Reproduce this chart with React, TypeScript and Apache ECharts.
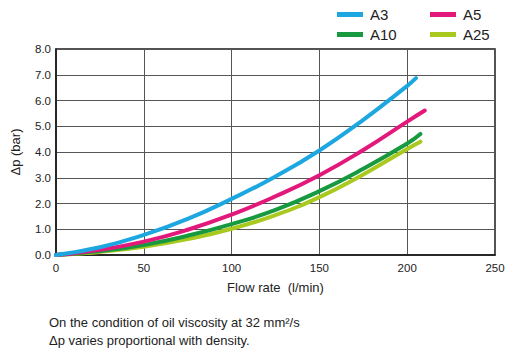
import React, { useEffect, useRef } from "react";
import * as echarts from "echarts";

const flowA3 = [0, 25, 50, 75, 100, 125, 150, 175, 200, 205];
const dpA3 = [0, 0.3, 0.78, 1.4, 2.18, 3.05, 4.06, 5.25, 6.57, 6.87];
const flowA5 = [0, 25, 50, 75, 100, 125, 150, 175, 200, 210];
const dpA5 = [0, 0.2, 0.52, 0.98, 1.57, 2.28, 3.1, 4.08, 5.18, 5.61];
const flowA10 = [0, 25, 50, 75, 100, 125, 150, 175, 200, 207.5];
const dpA10 = [0, 0.15, 0.39, 0.75, 1.2, 1.75, 2.48, 3.35, 4.33, 4.7];
const flowA25 = [0, 25, 50, 75, 100, 125, 150, 175, 200, 207.5];
const dpA25 = [0, 0.12, 0.32, 0.62, 1.02, 1.55, 2.25, 3.13, 4.12, 4.4];

const seriesNames = ["A3", "A5", "A10", "A25"];
const seriesColors = ["#1da7e1", "#e2197b", "#17993f", "#a9c91f"];
const xTicks = { min: 0, max: 250, interval: 50 };
const yTicks = { min: 0, max: 8, interval: 1 };
const noteLines = [
  "On the condition of oil viscosity at 32 mm²/s",
  "Δp varies proportional with density.",
];

const FONT = "'Liberation Sans', Arial, Helvetica, sans-serif";

export default function App() {
  const ref = useRef<HTMLDivElement>(null);
  useEffect(() => {
    if (!ref.current) return;
    const chart = echarts.init(ref.current, null, { renderer: "svg" });
    const xs = [flowA3, flowA5, flowA10, flowA25];
    const ys = [dpA3, dpA5, dpA10, dpA25];
    const legendPos = [
      { left: 337, top: 7 },
      { left: 430, top: 7 },
      { left: 337, top: 27 },
      { left: 430, top: 27 },
    ];
    chart.setOption({
      animation: false,
      textStyle: { fontFamily: FONT },
      legend: seriesNames.map((n, i) => ({
        data: [n],
        left: legendPos[i].left,
        top: legendPos[i].top,
        icon: "rect",
        itemWidth: 26,
        itemHeight: 5,
        itemGap: 0,
        padding: 0,
        textStyle: { fontSize: 15, color: "#222", fontFamily: FONT, padding: [0, 0, 0, 2] },
        selectedMode: false,
      })),
      grid: {
        left: 56,
        right: 19,
        top: 49,
        bottom: 105,
        show: true,
        borderColor: "#1a1a1a",
        borderWidth: 1.5,
      },
      xAxis: {
        type: "value",
        min: xTicks.min,
        max: xTicks.max,
        interval: xTicks.interval,
        name: "Flow rate  (l/min)",
        nameLocation: "middle",
        nameGap: 26,
        nameTextStyle: { fontSize: 13, color: "#222", fontFamily: FONT },
        axisLine: { show: true, lineStyle: { color: "#1a1a1a", width: 1.5 } },
        axisTick: { show: false },
        axisLabel: { fontSize: 11.5, color: "#222", margin: 7, fontFamily: FONT },
        splitLine: { show: true, lineStyle: { color: "#555", width: 1 } },
      },
      yAxis: {
        type: "value",
        min: yTicks.min,
        max: yTicks.max,
        interval: yTicks.interval,
        name: "Δp (bar)",
        nameLocation: "middle",
        nameRotate: 90,
        nameGap: 34,
        nameTextStyle: { fontSize: 13, color: "#222", fontFamily: FONT },
        axisLine: { show: true, lineStyle: { color: "#1a1a1a", width: 1.5 } },
        axisTick: { show: false },
        axisLabel: {
          fontSize: 11.5,
          color: "#222",
          margin: 5,
          fontFamily: FONT,
          formatter: (v: number) => v.toFixed(1),
        },
        splitLine: { show: true, lineStyle: { color: "#555", width: 1 } },
      },
      series: seriesNames.map((n, i) => ({
        name: n,
        type: "line",
        smooth: 0.5,
        showSymbol: false,
        symbol: "none",
        color: seriesColors[i],
        lineStyle: { width: 4, color: seriesColors[i], cap: "round" },
        data: xs[i].map((x, j) => [x, ys[i][j]]),
        z: 10 - i,
      })),
      graphic: noteLines.map((t, i) => ({
        type: "text",
        left: 49,
        top: 316 + i * 18,
        style: { text: t, fontSize: 13, fill: "#222", fontFamily: FONT },
      })),
    });
    return () => chart.dispose();
  }, []);
  return (
    <div
      ref={ref}
      style={{ position: "absolute", left: 0, top: 0, width: 514, height: 360 }}
    />
  );
}
